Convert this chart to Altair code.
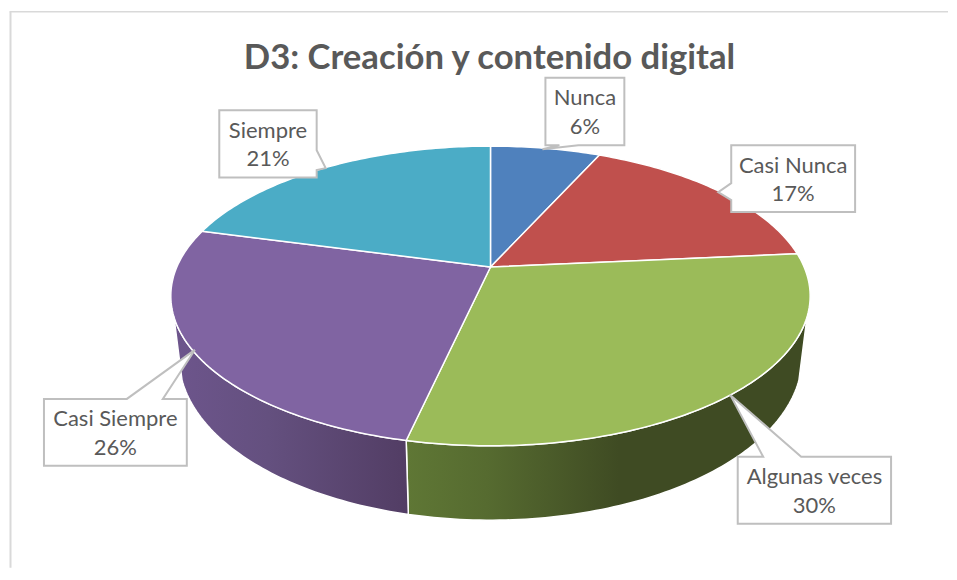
import math
import altair as alt
import pandas as pd

# ---- chart values ----
categories = ["Nunca", "Casi Nunca", "Algunas veces", "Casi Siempre", "Siempre"]
shares = [6.7, 16.8, 30.0, 25.7, 20.8]
pct_labels = ["6%", "17%", "30%", "26%", "21%"]
top_colors = ["#4f81bd", "#c0504d", "#9bbb59", "#8064a2", "#4bacc6"]
title_text = "D3: Creación y contenido digital"

# ---- callout layout, in page pixels: box (x0, x1, y0, y1), then leader (p, tip, q) ----
boxes = {
    "Nunca": (546, 625, 77.5, 145),
    "Casi Nunca": (732, 856, 145, 212),
    "Algunas veces": (738.5, 892, 457, 524),
    "Casi Siempre": (44, 187, 399, 466),
    "Siempre": (219.5, 317, 110, 177.5),
}
leaders = {
    "Nunca": ("bottom", 579, (543, 149), 560),
    "Casi Nunca": ("left", 183, (719, 192), 200),
    "Algunas veces": ("top", 764, (731, 395), 802),
    "Casi Siempre": ("top", 127, (195, 350), 163),
    "Siempre": ("right", 150, (326, 168), 170),
}

W, H = 941, 560
OFF = 8
k = 0.193
TOP = dict(cx=491, cy=267, a=314, b=144.4)
BOT = dict(cx=491, cy=326, a=306, b=156.9)
VISIBLE = (108.9, 251.1)


def rim(theta, ring):
    t = math.radians(theta)
    d = 1 + k * math.cos(t)
    return ring["cx"] + ring["a"] * math.sin(t) / d, ring["cy"] - ring["b"] * math.cos(t) / d


def sweep(t0, t1):
    n = max(2, int(abs(t1 - t0)) + 2)
    return [t0 + (t1 - t0) * j / (n - 1) for j in range(n)]


bounds = [0.0]
for s in shares:
    bounds.append(bounds[-1] + s * 3.6)

top_rows, wall_rows = [], []
for c, t0, t1 in zip(categories, bounds[:-1], bounds[1:]):
    pts = [(TOP["cx"], TOP["cy"])] + [rim(t, TOP) for t in sweep(t0, t1)]
    for i, (x, y) in enumerate(pts):
        top_rows.append(dict(cat=c, i=i, x=x, y=y))
    a0, a1 = max(t0, VISIBLE[0]), min(t1, VISIBLE[1])
    if a1 > a0:
        pts = [rim(t, TOP) for t in sweep(a0, a1)] + [rim(t, BOT) for t in sweep(a1, a0)]
        for i, (x, y) in enumerate(pts):
            wall_rows.append(dict(cat=c, i=i, x=x, y=y))
top_df = pd.DataFrame(top_rows)
wall_df = pd.DataFrame(wall_rows)

box_rows = []
for c in categories:
    x0, x1, y0, y1 = boxes[c]
    side, p, tip, q = leaders[c]
    if side == "top":
        pts = [(x0, y0), (p, y0), tip, (q, y0), (x1, y0), (x1, y1), (x0, y1)]
    elif side == "bottom":
        pts = [(x0, y0), (x1, y0), (x1, y1), (p, y1), tip, (q, y1), (x0, y1)]
    elif side == "left":
        pts = [(x0, y0), (x1, y0), (x1, y1), (x0, y1), (x0, q), tip, (x0, p)]
    else:
        pts = [(x0, y0), (x1, y0), (x1, p), tip, (x1, q), (x1, y1), (x0, y1)]
    for i, (x, y) in enumerate(pts):
        box_rows.append(dict(cat=c, i=i, x=x, y=y))
box_df = pd.DataFrame(box_rows)

text_rows = []
for c, p in zip(categories, pct_labels):
    x0, x1, y0, y1 = boxes[c]
    xm, ym = (x0 + x1) / 2, (y0 + y1) / 2
    text_rows.append(dict(x=xm, y=ym - 13, t=c))
    text_rows.append(dict(x=xm, y=ym + 15.5, t=p))
text_df = pd.DataFrame(text_rows)

X = alt.X("x:Q", axis=None, scale=alt.Scale(domain=[OFF, OFF + W], range=[0, W], nice=False, zero=False))
Y = alt.Y("y:Q", axis=None, scale=alt.Scale(domain=[OFF + H, OFF], nice=False, zero=False))

frame_left = alt.Chart(pd.DataFrame([dict(x=10.5, y=11.5, y2=OFF + H)])).mark_rule(color="#d9d9d9", strokeWidth=2).encode(x=X, y=Y, y2="y2:Q")
frame_top = alt.Chart(pd.DataFrame([dict(x=9.5, x2=OFF + W, y=11.5)])).mark_rule(color="#d9d9d9", strokeWidth=1.5).encode(x=X, x2="x2:Q", y=Y)

wall_grads = {
    "Algunas veces": [("#5f7735", 0), ("#566b30", 0.2), ("#3f4b23", 0.53), ("#3f4b23", 1)],
    "Casi Siempre": [("#6d558c", 0), ("#64507f", 0.4), ("#523d64", 1)],
}
wall_layers = []
for c, stops in wall_grads.items():
    wall_layers.append(
        alt.Chart(wall_df[wall_df.cat == c]).mark_line(
            filled=True, interpolate="linear-closed", stroke="white", strokeWidth=1.5,
            fill=alt.LinearGradient(gradient="linear", stops=[alt.GradientStop(color=a, offset=b) for a, b in stops], x1=0, x2=1, y1=0, y2=0),
        ).encode(x=X, y=Y, order="i:Q")
    )

tops = alt.Chart(top_df).mark_line(
    filled=True, interpolate="linear-closed", stroke="white", strokeWidth=1.5
).encode(
    x=X, y=Y, order="i:Q", detail="cat:N",
    fill=alt.Fill("cat:N", legend=None, scale=alt.Scale(domain=categories, range=top_colors)),
)

callouts = alt.Chart(box_df).mark_line(
    filled=True, interpolate="linear-closed", fill="white", stroke="#bfbfbf", strokeWidth=2
).encode(x=X, y=Y, order="i:Q", detail="cat:N")

labels = alt.Chart(text_df).mark_text(font="Lato", fontSize=22, color="#595959").encode(x=X, y=Y, text="t:N")
title = alt.Chart(pd.DataFrame([dict(x=490, y=59, t=title_text)])).mark_text(
    font="Lato", fontSize=34.7, fontWeight="bold", color="#595959"
).encode(x=X, y=Y, text="t:N")

chart = alt.layer(frame_left, frame_top, *wall_layers, tops, callouts, labels, title).properties(
    width=W, height=H, padding=0, background="white"
).configure_view(stroke=None)
chart.save("out.html", embed_options={"renderer": "svg", "actions": False})
